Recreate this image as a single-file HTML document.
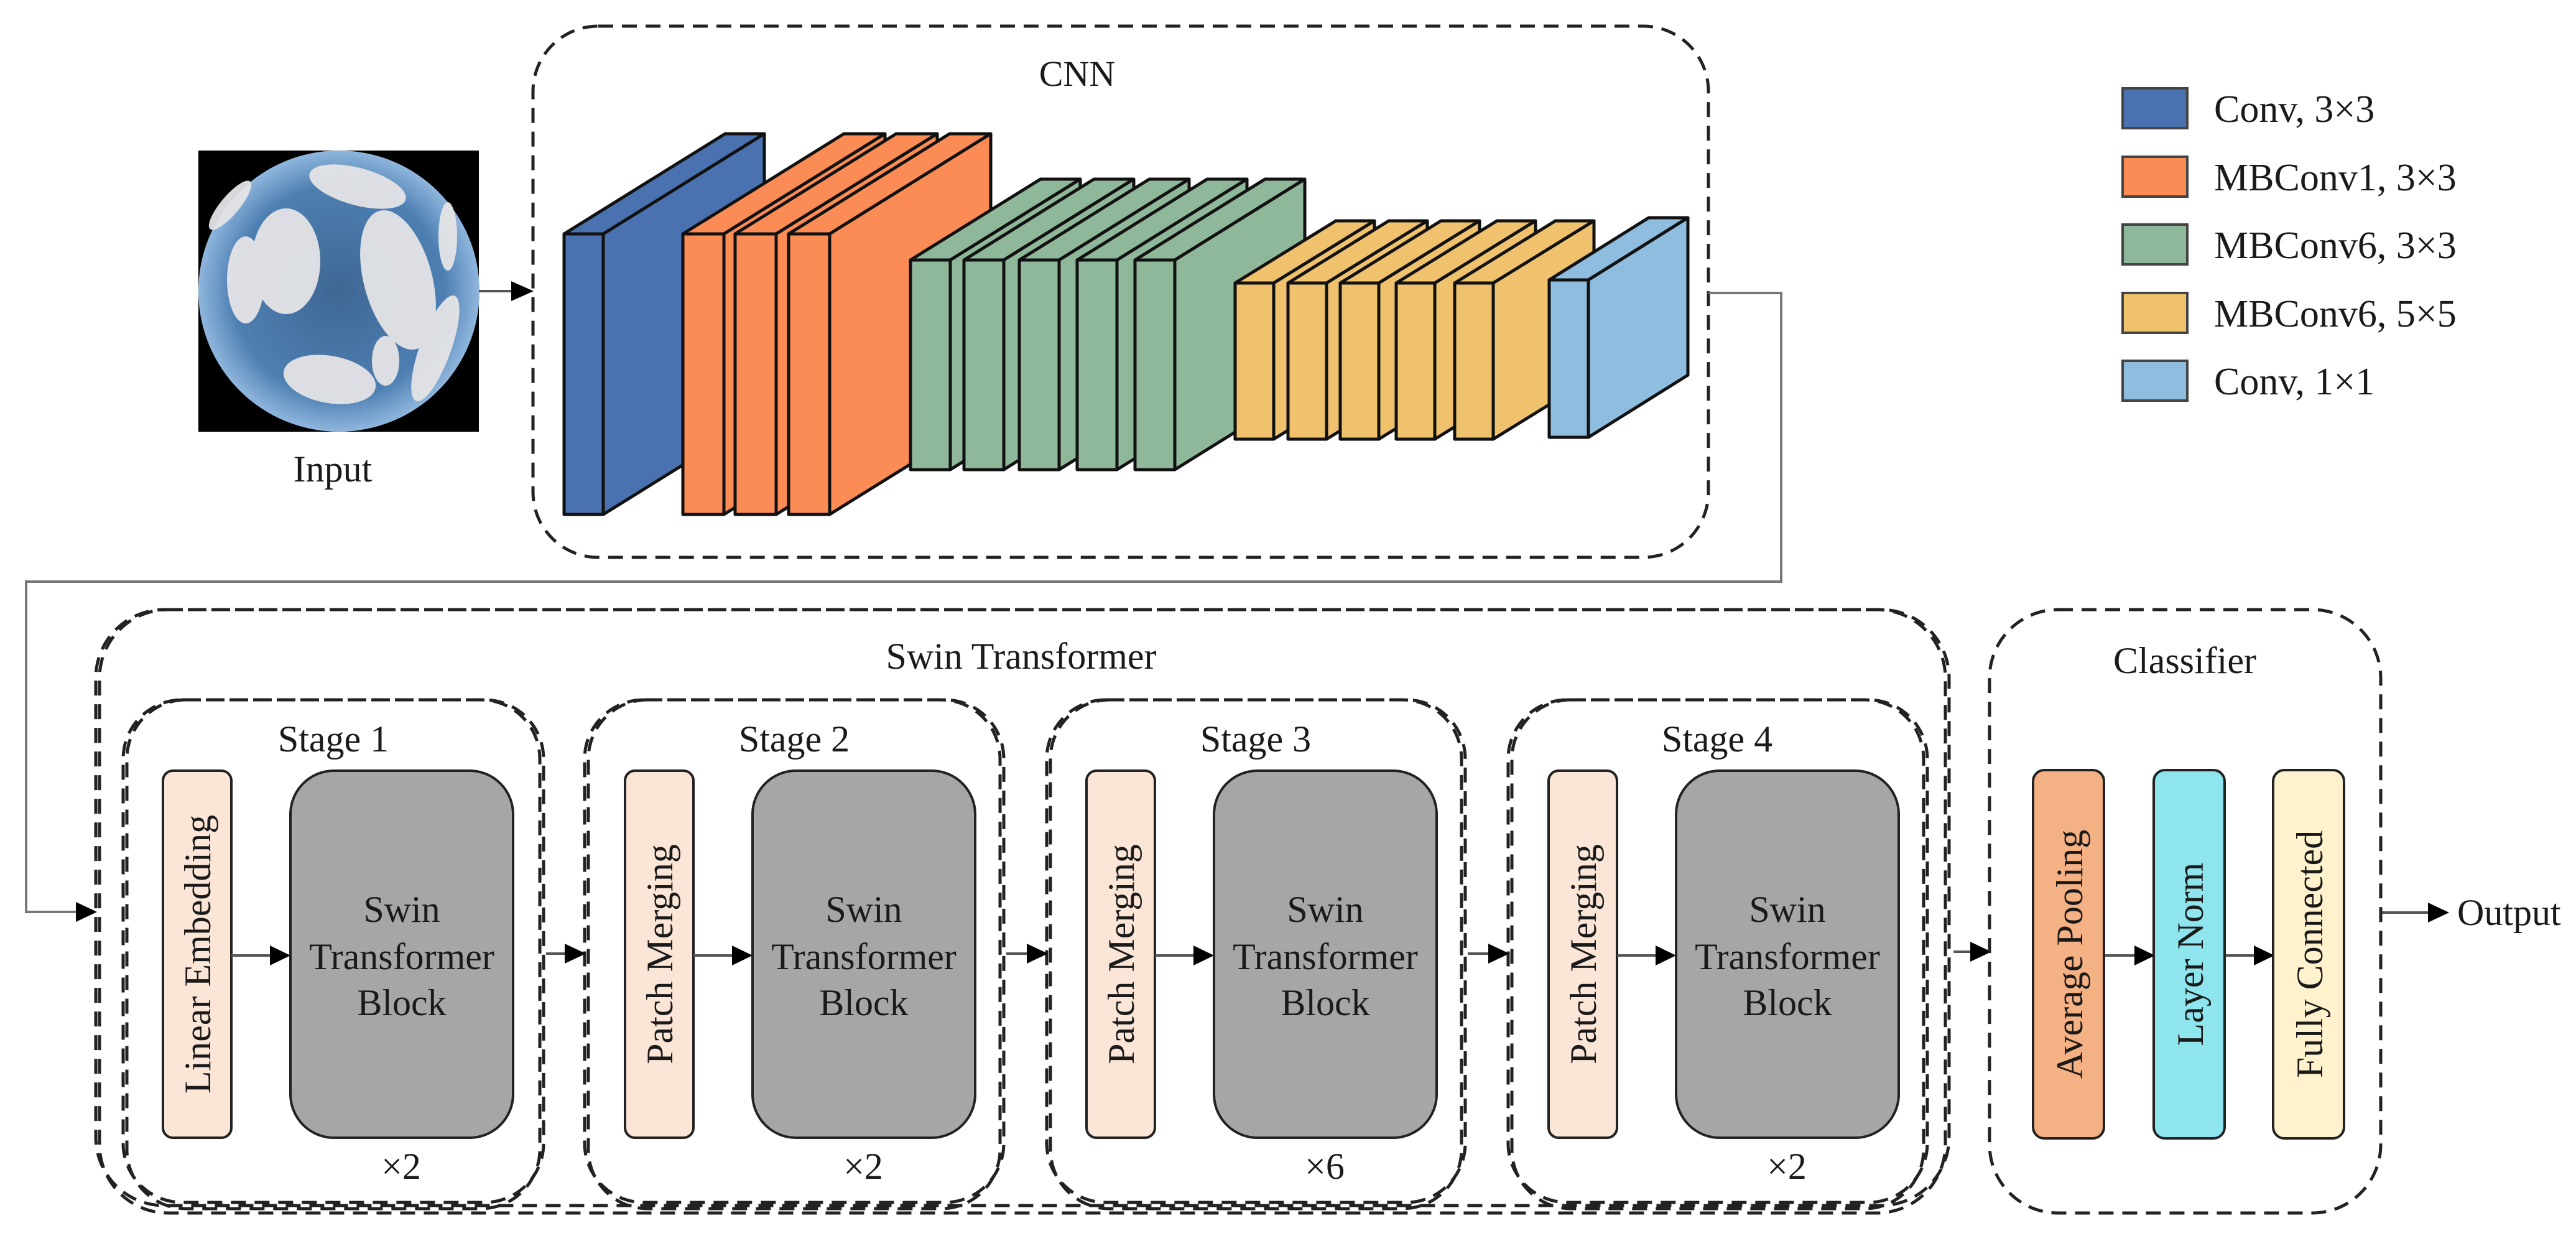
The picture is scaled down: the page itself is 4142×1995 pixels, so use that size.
<!DOCTYPE html>
<html><head><meta charset="utf-8"><style>
html,body{margin:0;padding:0;background:#fff;}
svg{display:block;}
text{font-family:"Liberation Serif",serif;fill:#1a1a1a;}
</style></head><body>
<svg width="4142" height="1995" viewBox="0 0 4142 1995" xmlns="http://www.w3.org/2000/svg">
<defs>
<radialGradient id="sky" cx="0.5" cy="0.5" r="0.5">
<stop offset="0" stop-color="#3f6793"/><stop offset="0.75" stop-color="#4d7fb2"/><stop offset="1" stop-color="#8fb6dd"/>
</radialGradient>
</defs>

<!-- Input image -->
<rect x="319" y="242" width="451" height="452" fill="#000"/>
<circle cx="545" cy="468" r="226" fill="url(#sky)"/>
<g fill="#e4e4e6" opacity="0.95">
<ellipse cx="575" cy="300" rx="80" ry="30" transform="rotate(15 575 300)"/>
<ellipse cx="460" cy="420" rx="55" ry="85"/>
<ellipse cx="395" cy="450" rx="30" ry="70"/>
<ellipse cx="640" cy="450" rx="55" ry="115" transform="rotate(-15 640 450)"/>
<ellipse cx="530" cy="610" rx="75" ry="38" transform="rotate(10 530 610)"/>
<ellipse cx="620" cy="580" rx="22" ry="40"/>
<ellipse cx="700" cy="560" rx="25" ry="90" transform="rotate(20 700 560)"/>
<ellipse cx="720" cy="380" rx="15" ry="55"/>
<ellipse cx="370" cy="330" rx="15" ry="50" transform="rotate(40 370 330)"/>
</g>
<text x="535" y="774" font-size="60" text-anchor="middle">Input</text>
<line x1="770" y1="468" x2="830" y2="468" stroke="#555" stroke-width="4"/>
<polygon points="822,452 858,468 822,484" fill="#000"/>

<!-- CNN box -->
<rect x="857" y="42" width="1890" height="854" rx="105" fill="none" stroke="#222" stroke-width="5" stroke-dasharray="24,14"/>
<text x="1732" y="138" font-size="58" text-anchor="middle">CNN</text>

<g stroke="#111" stroke-width="5" stroke-linejoin="round">
<g fill="#4a72b0">
<polygon points="907,376 1166,215 1229,215 970,376"/>
<polygon points="970,376 1229,215 1229,666 970,827"/>
<rect x="907" y="376" width="63" height="451"/>
</g>
<g fill="#fb8c55">
<polygon points="1098,376 1357,215 1423,215 1164,376"/><polygon points="1164,376 1423,215 1423,666 1164,827"/><rect x="1098" y="376" width="66" height="451"/>
<polygon points="1182,376 1441,215 1507,215 1248,376"/><polygon points="1248,376 1507,215 1507,666 1248,827"/><rect x="1182" y="376" width="66" height="451"/>
<polygon points="1268,376 1527,215 1593,215 1334,376"/><polygon points="1334,376 1593,215 1593,666 1334,827"/><rect x="1268" y="376" width="66" height="451"/>
</g>
<g fill="#8fb89a">
<polygon points="1464,418 1673,288 1737,288 1528,418"/><polygon points="1528,418 1737,288 1737,625 1528,755"/><rect x="1464" y="418" width="64" height="337"/>
<polygon points="1550,418 1759,288 1823,288 1614,418"/><polygon points="1614,418 1823,288 1823,625 1614,755"/><rect x="1550" y="418" width="64" height="337"/>
<polygon points="1639,418 1848,288 1912,288 1703,418"/><polygon points="1703,418 1912,288 1912,625 1703,755"/><rect x="1639" y="418" width="64" height="337"/>
<polygon points="1732,418 1941,288 2005,288 1796,418"/><polygon points="1796,418 2005,288 2005,625 1796,755"/><rect x="1732" y="418" width="64" height="337"/>
<polygon points="1825,418 2034,288 2098,288 1889,418"/><polygon points="1889,418 2098,288 2098,625 1889,755"/><rect x="1825" y="418" width="64" height="337"/>
</g>
<g fill="#f0c26e">
<polygon points="1986,455 2148,355 2210,355 2048,455"/><polygon points="2048,455 2210,355 2210,606 2048,706"/><rect x="1986" y="455" width="62" height="251"/>
<polygon points="2071,455 2233,355 2295,355 2133,455"/><polygon points="2133,455 2295,355 2295,606 2133,706"/><rect x="2071" y="455" width="62" height="251"/>
<polygon points="2155,455 2317,355 2379,355 2217,455"/><polygon points="2217,455 2379,355 2379,606 2217,706"/><rect x="2155" y="455" width="62" height="251"/>
<polygon points="2245,455 2407,355 2469,355 2307,455"/><polygon points="2307,455 2469,355 2469,606 2307,706"/><rect x="2245" y="455" width="62" height="251"/>
<polygon points="2339,455 2501,355 2563,355 2401,455"/><polygon points="2401,455 2563,355 2563,606 2401,706"/><rect x="2339" y="455" width="62" height="251"/>
</g>
<g fill="#8ebde0">
<polygon points="2491,450 2651,350 2714,350 2554,450"/><polygon points="2554,450 2714,350 2714,603 2554,703"/><rect x="2491" y="450" width="63" height="253"/>
</g>
</g>

<!-- Legend -->
<g stroke="#444" stroke-width="4">
<rect x="3413" y="142" width="104" height="64" fill="#4a72b0"/>
<rect x="3413" y="252" width="104" height="64" fill="#fb8c55"/>
<rect x="3413" y="361" width="104" height="64" fill="#8fb89a"/>
<rect x="3413" y="471" width="104" height="64" fill="#f0c26e"/>
<rect x="3413" y="580" width="104" height="64" fill="#8ebde0"/>
</g>
<g font-size="62">
<text x="3560" y="196">Conv, 3×3</text>
<text x="3560" y="306">MBConv1, 3×3</text>
<text x="3560" y="415">MBConv6, 3×3</text>
<text x="3560" y="525">MBConv6, 5×5</text>
<text x="3560" y="634">Conv, 1×1</text>
</g>

<!-- Connector CNN -> Swin -->
<polyline points="2747,471 2864,471 2864,935 42,935 42,1466 128,1466" fill="none" stroke="#777" stroke-width="4"/>
<polygon points="122,1450 156,1466 122,1482" fill="#000"/>

<!-- Swin outer -->
<g fill="none" stroke="#222" stroke-width="5" stroke-dasharray="24,14">
<rect x="154" y="980" width="2980" height="958" rx="110"/>
<rect x="160" y="980" width="2968" height="970" rx="110"/>
</g>
<text x="1642" y="1075" font-size="60" text-anchor="middle">Swin Transformer</text>

<g fill="none" stroke="#222" stroke-width="5" stroke-dasharray="24,14">
<rect x="198" y="1125" width="676" height="808" rx="95"/>
<rect x="204" y="1125" width="664" height="818" rx="95"/>
<rect x="940" y="1125" width="674" height="808" rx="95"/>
<rect x="946" y="1125" width="662" height="818" rx="95"/>
<rect x="1683" y="1125" width="673" height="808" rx="95"/>
<rect x="1689" y="1125" width="661" height="818" rx="95"/>
<rect x="2425" y="1125" width="674" height="808" rx="95"/>
<rect x="2431" y="1125" width="662" height="818" rx="95"/>
</g>
<g font-size="60" text-anchor="middle">
<text x="536" y="1208">Stage 1</text>
<text x="1277" y="1208">Stage 2</text>
<text x="2019" y="1208">Stage 3</text>
<text x="2761" y="1208">Stage 4</text>
</g>

<g stroke="#222" stroke-width="4">
<rect x="262" y="1239" width="110" height="590" rx="16" fill="#fbe5d6"/>
<rect x="467" y="1239" width="358" height="590" rx="70" fill="#a6a6a6"/>
<rect x="1005" y="1239" width="110" height="590" rx="16" fill="#fbe5d6"/>
<rect x="1210" y="1239" width="358" height="590" rx="70" fill="#a6a6a6"/>
<rect x="1747" y="1239" width="110" height="590" rx="16" fill="#fbe5d6"/>
<rect x="1952" y="1239" width="358" height="590" rx="70" fill="#a6a6a6"/>
<rect x="2490" y="1239" width="110" height="590" rx="16" fill="#fbe5d6"/>
<rect x="2695" y="1239" width="358" height="590" rx="70" fill="#a6a6a6"/>
</g>
<g font-size="60" text-anchor="middle">
<text transform="translate(338,1534) rotate(-90)">Linear Embedding</text>
<text transform="translate(1081,1534) rotate(-90)">Patch Merging</text>
<text transform="translate(1823,1534) rotate(-90)">Patch Merging</text>
<text transform="translate(2566,1534) rotate(-90)">Patch Merging</text>
</g>
<g font-size="60" text-anchor="middle">
<text x="646" y="1482">Swin</text><text x="646" y="1558">Transformer</text><text x="646" y="1632">Block</text>
<text x="1389" y="1482">Swin</text><text x="1389" y="1558">Transformer</text><text x="1389" y="1632">Block</text>
<text x="2131" y="1482">Swin</text><text x="2131" y="1558">Transformer</text><text x="2131" y="1632">Block</text>
<text x="2874" y="1482">Swin</text><text x="2874" y="1558">Transformer</text><text x="2874" y="1632">Block</text>
<text x="645" y="1895">×2</text>
<text x="1388" y="1895">×2</text>
<text x="2130" y="1895">×6</text>
<text x="2873" y="1895">×2</text>
</g>

<g stroke="#555" stroke-width="4">
<line x1="372" y1="1536" x2="440" y2="1536"/>
<line x1="1115" y1="1536" x2="1183" y2="1536"/>
<line x1="1857" y1="1536" x2="1925" y2="1536"/>
<line x1="2600" y1="1536" x2="2668" y2="1536"/>
<line x1="878" y1="1533" x2="915" y2="1533"/>
<line x1="1618" y1="1533" x2="1658" y2="1533"/>
<line x1="2360" y1="1533" x2="2400" y2="1533"/>
<line x1="3141" y1="1530" x2="3175" y2="1530"/>
<line x1="3383" y1="1536" x2="3440" y2="1536"/>
<line x1="3577" y1="1536" x2="3632" y2="1536"/>
<line x1="3828" y1="1467" x2="3910" y2="1467"/>
</g>
<g fill="#000">
<polygon points="434,1520 467,1536 434,1552"/>
<polygon points="1177,1520 1210,1536 1177,1552"/>
<polygon points="1919,1520 1952,1536 1919,1552"/>
<polygon points="2662,1520 2695,1536 2662,1552"/>
<polygon points="908,1517 942,1533 908,1549"/>
<polygon points="1651,1517 1685,1533 1651,1549"/>
<polygon points="2393,1517 2427,1533 2393,1549"/>
<polygon points="3168,1514 3202,1530 3168,1546"/>
<polygon points="3432,1520 3465,1536 3432,1552"/>
<polygon points="3624,1520 3657,1536 3624,1552"/>
<polygon points="3904,1451 3938,1467 3904,1483"/>
</g>

<!-- Classifier -->
<rect x="3199" y="980" width="629" height="970" rx="110" fill="none" stroke="#222" stroke-width="5" stroke-dasharray="24,14"/>
<text x="3513" y="1082" font-size="60" text-anchor="middle">Classifier</text>
<g stroke="#222" stroke-width="4">
<rect x="3269" y="1238" width="114" height="592" rx="18" fill="#f4b183"/>
<rect x="3463" y="1238" width="114" height="592" rx="18" fill="#8ee5ee"/>
<rect x="3655" y="1238" width="114" height="592" rx="18" fill="#fff2cc"/>
</g>
<g font-size="60" text-anchor="middle">
<text transform="translate(3348,1534) rotate(-90)">Average Pooling</text>
<text transform="translate(3542,1534) rotate(-90)">Layer Norm</text>
<text transform="translate(3734,1534) rotate(-90)">Fully Connected</text>
</g>
<text x="3951" y="1487" font-size="60">Output</text>
</svg>
</body></html>
